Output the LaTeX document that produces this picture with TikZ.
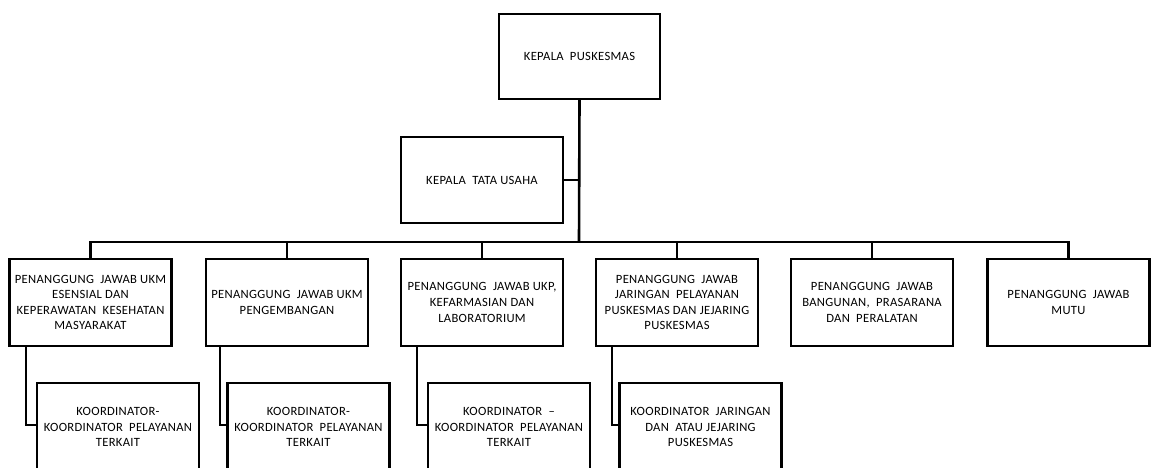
\documentclass[tikz,border=0pt]{standalone}
\usepackage{fontspec}
\setmainfont{Carlito}[LetterSpace=2.5]
\begin{document}
\begin{tikzpicture}[x=1bp,y=-1bp,
  box/.style={draw=black, line width=2.2bp, fill=white, minimum width=162bp, minimum height=87bp,
    inner sep=0pt, align=center, font=\fontsize{12.6bp}{15.6bp}\selectfont},
  link/.style={draw=black, line width=2.2bp},
  trunk/.style={draw=black, line width=2.6bp}]
\useasboundingbox (0,0) rectangle (1157,468);
\clip (0,0) rectangle (1157,468);
\fill[white] (0,0) rectangle (1157,468);

\node[box, minimum width=161bp, minimum height=85bp] (top) at (579.5,56.5) {KEPALA\ \ PUSKESMAS};
\node[box, minimum height=86bp] (tu) at (482,180) {KEPALA\ \ TATA USAHA};

\coordinate (bus) at (579,242);

\node[box] (b1) at (90.5,302.5) {PENANGGUNG\ \ JAWAB UKM\\ESENSIAL DAN\\KEPERAWATAN\ \ KESEHATAN\\MASYARAKAT};
\node[box] (b2) at (287,302.5) {PENANGGUNG\ \ JAWAB UKM\\PENGEMBANGAN};
\node[box] (b3) at (482,302.5) {PENANGGUNG\ \ JAWAB UKP,\\KEFARMASIAN DAN\\LABORATORIUM};
\node[box] (b4) at (677,302.5) {PENANGGUNG\ \ JAWAB\\JARINGAN\ \ PELAYANAN\\PUSKESMAS DAN JEJARING\\PUSKESMAS};
\node[box] (b5) at (872,302.5) {PENANGGUNG\ \ JAWAB\\BANGUNAN,\ \ PRASARANA\\DAN\ \ PERALATAN};
\node[box] (b6) at (1068.5,302.5) {PENANGGUNG\ \ JAWAB\\MUTU};

\node[box, minimum height=88bp] (c1) at (118,427) {KOORDINATOR-\\KOORDINATOR\ \ PELAYANAN\\TERKAIT};
\node[box, minimum height=88bp] (c2) at (308.5,427) {KOORDINATOR-\\KOORDINATOR\ \ PELAYANAN\\TERKAIT};
\node[box, minimum height=88bp] (c3) at (509,427) {KOORDINATOR\ \ --\\KOORDINATOR\ \ PELAYANAN\\TERKAIT};
\node[box, minimum height=88bp] (c4) at (700.5,427) {KOORDINATOR\ \ JARINGAN\\DAN\ \ ATAU JEJARING\\PUSKESMAS};

% trunk and bus
\draw[trunk] (top.south) -- (bus);
\draw[link] (tu.east) -- (tu.east -| bus);
\draw[link] (b1.north) |- (bus) -| (b6.north);
\foreach \n in {b2,b3,b4,b5}
  \draw[link] (\n.north) -- (\n.north |- bus);

% children
\draw[link] ([xshift=18bp]b1.south west) |- ([yshift=2bp]c1.west);
\draw[link] ([xshift=15bp]b2.south west) |- ([yshift=2bp]c2.west);
\draw[link] ([xshift=17bp]b3.south west) |- ([yshift=2bp]c3.west);
\draw[link] ([xshift=17bp]b4.south west) |- ([yshift=2bp]c4.west);
\end{tikzpicture}
\end{document}
